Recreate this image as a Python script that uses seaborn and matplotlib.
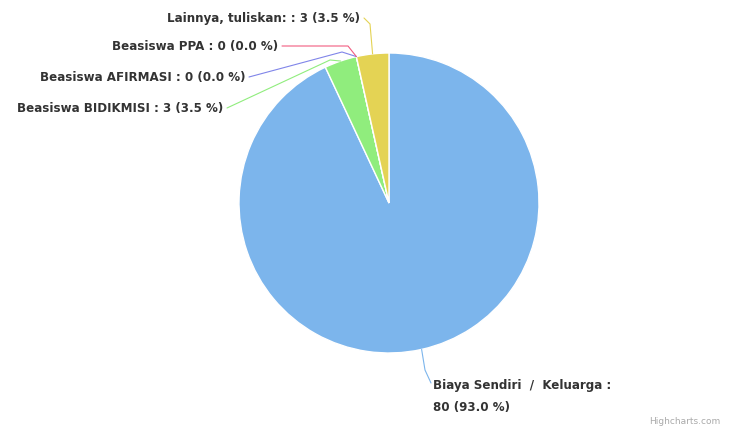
import numpy as np
import matplotlib
matplotlib.use("Agg")
import matplotlib.pyplot as plt
import seaborn as sns

categories = ["Biaya Sendiri / Keluarga", "Beasiswa BIDIKMISI", "Beasiswa AFIRMASI",
              "Beasiswa PPA", "Lainnya, tuliskan:"]
counts = [80, 3, 0, 0, 3]
percents = [93.0, 3.5, 0.0, 0.0, 3.5]
colors = ["#7cb5ec", "#90ed7d", "#8085e9", "#f15c80", "#e4d354"]

sns.set_theme(style="white")
plt.rcParams['font.family'] = ['DejaVu Sans']

W, H = 736, 428
fig = plt.figure(figsize=(W / 100, H / 100), dpi=100)
ax = fig.add_axes([0, 0, 1, 1])

cx, cy, R = 389, H - 203, 150
wedges, _ = ax.pie(counts, colors=colors, startangle=90, counterclock=False,
                   center=(cx, cy), radius=R,
                   wedgeprops=dict(edgecolor="white", linewidth=1.0))
ax.set_xlim(0, W)
ax.set_ylim(0, H)
ax.set_aspect("equal")
ax.axis("off")

total = sum(counts)

def edge_point(i):
    start = 90 - 360 * sum(counts[:i]) / total
    mid = start - 180 * counts[i] / total
    a = np.deg2rad(mid)
    return cx + R * np.cos(a), cy + R * np.sin(a)

def Y(py):
    return H - py

FS = 8.6
# label layout: (x, y in pixels from top, ha, break point)
layout = {
    0: (433, 385, "left", (425, 370)),
    1: (223, 108, "right", (330, 60)),
    2: (245, 77, "right", (342, 52)),
    3: (278, 46, "right", (348, 46)),
    4: (360, 18, "right", (370, 24)),
}

for i, cat in enumerate(categories):
    lx, ly, ha, brk = layout[i]
    if i == 0:
        ax.text(lx, Y(ly), f"Biaya Sendiri  /  Keluarga :", ha="left", va="center",
                fontsize=FS, fontweight="bold", color="#333333")
        ax.text(lx, Y(ly + 22), f"{counts[i]} ({percents[i]:.1f} %)", ha="left", va="center",
                fontsize=FS, fontweight="bold", color="#333333")
        start = (lx - 2, Y(ly - 2))
    else:
        txt = f"{cat} : {counts[i]} ({percents[i]:.1f} %)"
        ax.text(lx, Y(ly), txt, ha="right", va="center", fontsize=FS, fontweight="bold",
                color="#333333")
        start = (lx + 4, Y(ly))
    ex, ey = edge_point(i)
    xs = [start[0], brk[0], ex]
    ys = [start[1], Y(brk[1]), ey]
    ax.plot(xs, ys, color=colors[i], lw=0.8, solid_capstyle="round")

ax.text(720, Y(421), "Highcharts.com", ha="right", va="center", fontsize=6.5, color="#aaaaaa")

fig.savefig("out.png", dpi=100)
